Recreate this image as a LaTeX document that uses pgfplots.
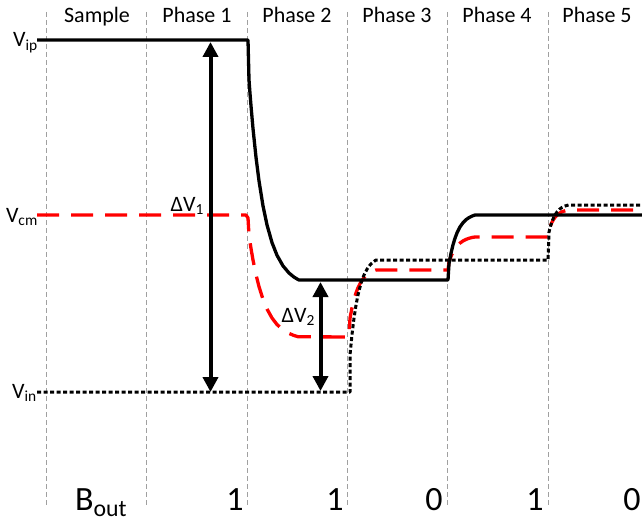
\documentclass[border=0pt]{standalone}
\usepackage{pgfplots}
\pgfplotsset{compat=1.18}
\usepackage{fontspec}
\setmainfont{Carlito}
\usetikzlibrary{arrows.meta}
\definecolor{gridgray}{RGB}{160,160,160}
\begin{document}
\begin{tikzpicture}
\begin{axis}[
  width=642bp, height=523bp, scale only axis,
  xmin=0, xmax=642, ymin=0, ymax=523,
  y dir=reverse,
  axis lines=none, ticks=none,
  clip=false,
]
% phase separators
\foreach \xx in {46.5,146.5,247.5,347.5,447.5,548}{
  \edef\temp{\noexpand\addplot[gridgray, line width=1bp, dash pattern=on 5bp off 3bp] coordinates {(\xx,12) (\xx,506)};}
  \temp
}
% red dashed (Vcm branch)
\addplot[red, line width=3.3bp, dash pattern=on 22bp off 12bp, line join=round] coordinates {
(37,215) (246,215) (248,218) (249,235.3) (251,248.5) (253,260.0) (256,274.6) (259,286.6) (263,299.3) (267,309.0) (272,318.0) (277,324.5) (283,329.8) (289,333.4) (294,335.5) (298,336.7) (349,337)
(350,318.2) (352,307.8) (354,299.5) (356,292.9) (358,287.7) (361,281.8) (364,277.6) (367,274.6) (370,272.5) (373,271.1) (376,270) (448,270)
(449,261.75) (451,256.4) (453,252.1) (455,248.8) (457,246.1) (460,243.1) (463,240.9) (466,239.4) (469,238.3) (472,237.5) (475,237) (548,237)
(549,230) (550.5,225.7) (552,222.2) (553.5,219.5) (555,217.3) (557.25,214.9) (559.5,213.2) (561.75,211.9) (564,211.1) (566.25,210.4) (568.5,210) (642,210)};
% black solid (Vip branch)
\addplot[black, line width=3.3bp, line join=round] coordinates {
(37,40) (248,40) (249,80) (250,93.4) (251,105.9) (253,128.6) (256,157.3) (259,180.9) (263,205.9) (267,224.9) (272,242.6) (277,255.3) (283,265.9) (289,273.0) (294,277.1) (298,279.5) (299,280) (448,280)
(449,263.75) (451,253.2) (453,244.8) (455,238.2) (457,232.9) (460,226.9) (463,222.7) (466,219.7) (469,217.6) (472,216.1) (475,215) (642,215)};
% black dotted (Vin branch)
\addplot[black, line width=3bp, dash pattern=on 4bp off 2.5bp, line join=round] coordinates {
(37,392) (350,392) (350,355) (352,334.5) (354,318.1) (356,305.2) (358,294.8) (361,283.2) (364,275.0) (367,269.2) (370,265.0) (373,262.1) (376,260) (548,260)
(549,232) (550.5,226.2) (552,221.5) (553.5,217.8) (555,214.9) (557.25,211.6) (559.5,209.3) (561.75,207.6) (564,206.4) (566.25,205.6) (568.5,205) (642,205)};
% delta arrows
\addplot[black, line width=4bp, {Triangle[length=15bp,width=15bp]}-{Triangle[length=15bp,width=15bp]}] coordinates {(210.5,42) (210.5,392)};
\addplot[black, line width=4bp, {Triangle[length=15bp,width=15bp]}-{Triangle[length=15bp,width=15bp]}] coordinates {(320.5,282) (320.5,391)};
% labels
\begin{scope}[every node/.style={font=\fontsize{22bp}{26bp}\selectfont, inner sep=0pt}]
\node[anchor=base] at (axis cs:97,23) {Sample};
\node[anchor=base] at (axis cs:197,23) {Phase 1};
\node[anchor=base] at (axis cs:297,23) {Phase 2};
\node[anchor=base] at (axis cs:397,23) {Phase 3};
\node[anchor=base] at (axis cs:497,23) {Phase 4};
\node[anchor=base] at (axis cs:597,23) {Phase 5};
\node[anchor=base east] at (axis cs:38,47) {V\textsubscript{ip}};
\node[anchor=base east] at (axis cs:38,222) {V\textsubscript{cm}};
\node[anchor=base east] at (axis cs:37,398) {V\textsubscript{in}};
\node[anchor=base east] at (axis cs:204,211) {ΔV\textsubscript{1}};
\node[anchor=base east] at (axis cs:315,322) {ΔV\textsubscript{2}};
\end{scope}
\begin{scope}[every node/.style={font=\fontsize{34bp}{40bp}\selectfont, inner sep=0pt}]
\node[anchor=base west] at (axis cs:75,510) {B\textsubscript{out}};
\node[anchor=base] at (axis cs:235,510) {1};
\node[anchor=base] at (axis cs:335,510) {1};
\node[anchor=base] at (axis cs:434,510) {0};
\node[anchor=base] at (axis cs:535,510) {1};
\node[anchor=base] at (axis cs:632,510) {0};
\end{scope}
\end{axis}
\pgfresetboundingbox
\path[use as bounding box] (current axis.south west) rectangle (current axis.north east);
\end{tikzpicture}
\end{document}
